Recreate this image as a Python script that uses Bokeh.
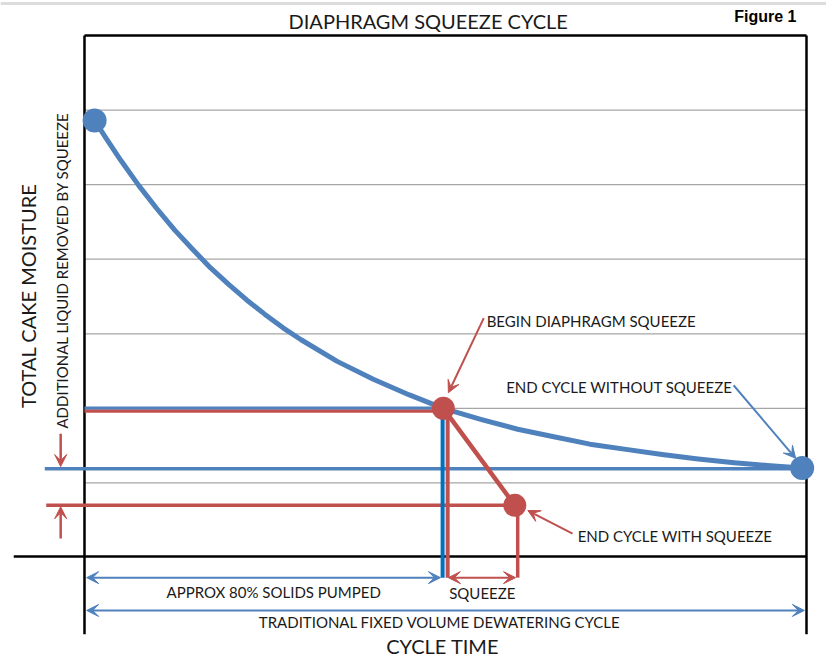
from bokeh.plotting import figure
from bokeh.models import Range1d, Label, Arrow, VeeHead
from bokeh.embed import file_html
from bokeh.resources import INLINE

# ---------------- data ----------------
# cycle time (0..10 across the box) and cake moisture (grid units 0..7)
curve_time = [0.14, 0.3, 0.5, 0.75, 1.0, 1.25, 1.5, 1.75, 2.0, 2.25, 2.5, 2.75, 3.0,
              3.5, 4.0, 4.5, 4.97, 5.5, 6.0, 6.5, 7.0, 7.5, 8.0, 8.5, 9.0, 9.5, 9.94]
curve_moisture = [5.86, 5.62, 5.33, 4.99, 4.68, 4.39, 4.13, 3.88, 3.66, 3.45, 3.26, 3.08, 2.92,
                  2.63, 2.39, 2.18, 2.0, 1.85, 1.72, 1.62, 1.52, 1.45, 1.38, 1.32, 1.27, 1.23, 1.20]
grid_levels = [1, 2, 3, 4, 5, 6]
box_time = [0.0, 10.0]
box_top = 7.0
box_bottom = -1.03

start_time, start_moisture = 0.14, 5.86
begin_time, begin_moisture = 4.97, 2.0
squeeze_end_time, squeeze_end_moisture = 5.96, 0.70
squeeze_stop_time = 6.0
end_time, end_moisture = 9.94, 1.20

BLUE = "#4F81BD"
BLUE2 = "#0070C0"
RED = "#C0504D"
GRID = "#A6A6A6"
FONT = "Lato"
TXT = "#1a1a1a"

X0, X1 = -1.16343, 10.27701
p = figure(width=826, height=661, output_backend="svg", toolbar_location=None,
           x_range=Range1d(X0, X1), y_range=Range1d(-1.39464, 7.46935),
           x_axis_location=None, y_axis_location=None, min_border=0,
           background_fill_color="white", border_fill_color="white")
p.outline_line_color = None
p.xgrid.visible = False
p.ygrid.visible = False

# faint page rule at the top
p.line(x=[X0, X1], y=[7.43, 7.43], line_color="#DCDCDC", line_width=3)

# gridlines
p.segment(x0=[box_time[0]] * len(grid_levels), x1=[box_time[1]] * len(grid_levels),
          y0=grid_levels, y1=grid_levels, line_color=GRID, line_width=1.2)

# box
p.line(x=[box_time[0], box_time[1]], y=[box_top, box_top], line_color="black", line_width=2.5)
p.line(x=[box_time[0], box_time[0]], y=[box_top, box_bottom], line_color="black", line_width=2.5)
p.line(x=[box_time[1], box_time[1]], y=[box_top, box_bottom], line_color="black", line_width=2.5)
p.line(x=[-0.98, box_time[1]], y=[0.013, 0.013], line_color="black", line_width=2.5)

# horizontal level lines
p.line(x=[box_time[0], begin_time], y=[begin_moisture - 0.035, begin_moisture - 0.035],
       line_color=RED, line_width=3.5)
p.line(x=[box_time[0], begin_time], y=[begin_moisture + 0.005, begin_moisture + 0.005],
       line_color=BLUE, line_width=3)
p.line(x=[-0.55, end_time], y=[end_moisture - 0.01, end_moisture - 0.01],
       line_color=BLUE, line_width=3.5)
p.line(x=[-0.53, squeeze_end_time], y=[squeeze_end_moisture, squeeze_end_moisture],
       line_color=RED, line_width=3.5)

# verticals
p.line(x=[4.96, 4.96], y=[begin_moisture, -0.27], line_color=BLUE2, line_width=4)
p.line(x=[5.03, 5.03], y=[begin_moisture, -0.27], line_color=RED, line_width=4)
p.line(x=[squeeze_stop_time, squeeze_stop_time], y=[squeeze_end_moisture, -0.27],
       line_color=RED, line_width=3.5)

# squeeze path
p.line(x=[begin_time, squeeze_end_time], y=[begin_moisture, squeeze_end_moisture],
       line_color=RED, line_width=4.5)

# moisture curve
p.line(x=curve_time, y=curve_moisture, line_color=BLUE, line_width=5, line_join="round")

# dots
p.scatter(x=[start_time, end_time], y=[start_moisture, end_moisture], size=24,
          fill_color=BLUE, line_color=None)
p.scatter(x=[begin_time, squeeze_end_time], y=[begin_moisture, squeeze_end_moisture],
          size=23, fill_color=RED, line_color=None)


def arrow(x0, y0, x1, y1, color, width=2, both=False):
    end = VeeHead(size=12, fill_color=color, line_color=color)
    start = VeeHead(size=12, fill_color=color, line_color=color) if both else None
    p.add_layout(Arrow(x_start=x0, y_start=y0, x_end=x1, y_end=y1, end=end, start=start,
                       line_color=color, line_width=width))


# left arrows (additional liquid removed)
arrow(-0.33, 1.66, -0.33, 1.22, RED, 2.5)
arrow(-0.33, 0.255, -0.33, 0.68, RED, 2.5)

# callout arrows
arrow(5.53, 3.21, 5.04, 2.21, RED, 2)
arrow(8.99, 2.31, 9.85, 1.33, BLUE, 2)
arrow(6.76, 0.32, 6.14, 0.63, RED, 2)

# bottom span arrows
arrow(0.03, -0.27, 4.93, -0.27, BLUE, 2, both=True)
arrow(5.04, -0.27, 5.97, -0.27, RED, 2, both=True)
arrow(0.03, -0.71, 9.97, -0.71, BLUE, 2, both=True)


def label(x, y, text, size, align="left", angle=0, font=FONT, style="normal", color=TXT):
    p.add_layout(Label(x=x, y=y, text=text, text_font=font, text_font_size=f"{size}px",
                       text_align=align, text_baseline="middle", angle=angle,
                       angle_units="deg", text_color=color, text_font_style=style))


label(4.76, 7.195, "DIAPHRAGM SQUEEZE CYCLE", 20, "center")
label(9.43, 7.255, "Figure 1", 16, "center", font="Liberation Sans", style="bold", color="black")
label(5.57, 3.165, "BEGIN DIAPHRAGM SQUEEZE", 15)
label(5.84, 2.29, "END CYCLE WITHOUT SQUEEZE", 15)
label(6.83, 0.295, "END CYCLE WITH SQUEEZE", 15)
label(2.62, -0.456, "APPROX 80% SOLIDS PUMPED", 15, "center")
label(5.51, -0.47, "SQUEEZE", 15, "center")
label(4.92, -0.86, "TRADITIONAL FIXED VOLUME DEWATERING CYCLE", 15, "center")
label(4.96, -1.19, "CYCLE TIME", 20, "center")
label(-0.776, 3.51, "TOTAL CAKE MOISTURE", 20, "center", angle=90)
label(-0.305, 3.85, "ADDITIONAL LIQUID REMOVED BY SQUEEZE", 15, "center", angle=90)

open("out.html", "w").write(file_html(p, INLINE))
